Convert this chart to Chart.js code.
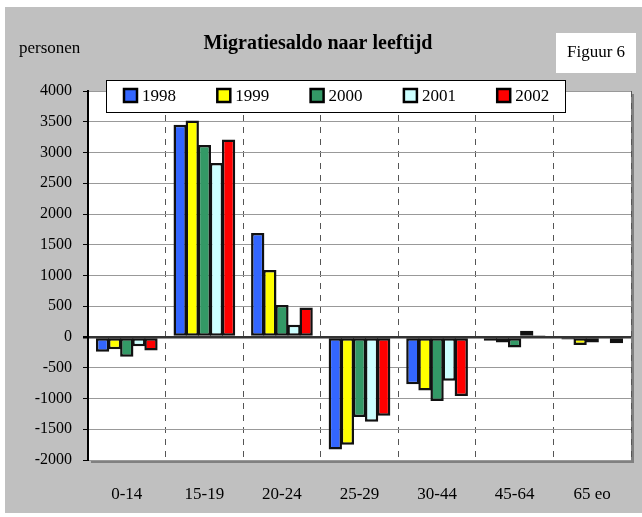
<!DOCTYPE html>
<html>
<head>
<meta charset="utf-8">
<script src="https://cdn.jsdelivr.net/npm/chart.js@4/dist/chart.umd.min.js"></script>
<style>
  html, body { margin: 0; padding: 0; background: #fff; }
  #wrap { width: 642px; height: 517px; position: relative; }
</style>
</head>
<body>
<div id="wrap"><canvas id="chart" width="642" height="517"></canvas></div>
<script>
// age groups
const categories = ["0-14", "15-19", "20-24", "25-29", "30-44", "45-64", "65 eo"];
const years = ["1998", "1999", "2000", "2001", "2002"];

// migration balance (persons) per year
const saldo1998 = [-240, 3450, 1690, -1830, -770, -60, -40];
const saldo1999 = [-200, 3520, 1090, -1750, -870, -90, -130];
const saldo2000 = [-320, 3120, 520, -1300, -1040, -170, -90];
const saldo2001 = [-150, 2830, 200, -1380, -710, 100, 20];
const saldo2002 = [-220, 3210, 480, -1280, -960, 30, -100];

const yTicks = { min: -2000, max: 4000, step: 500 };

const colors = ["#3366ff", "#ffff00", "#339966", "#ccffff", "#ff0000"];
const allData = [saldo1998, saldo1999, saldo2000, saldo2001, saldo2002];

const serif = "'Liberation Serif', 'Times New Roman', serif";

// gray panel, white plot with shadow, texts and legend
const decor = {
  id: "decor",
  beforeDraw(chart) {
    const ctx = chart.ctx;
    const a = chart.chartArea;
    ctx.save();
    ctx.fillStyle = "#c0c0c0";
    ctx.fillRect(5, 7, 637, 506);
    ctx.fillStyle = "#808080";
    ctx.fillRect(a.left + 3, a.top + 3, a.right - a.left, a.bottom - a.top);
    ctx.fillStyle = "#ffffff";
    ctx.fillRect(a.left, a.top, a.right - a.left, a.bottom - a.top);
    ctx.restore();
  },
  afterDraw(chart) {
    const ctx = chart.ctx;
    ctx.save();
    ctx.fillStyle = "#000";
    ctx.textBaseline = "middle";
    ctx.font = "bold 20px " + serif;
    ctx.textAlign = "center";
    ctx.fillText("Migratiesaldo naar leeftijd", 318, 44);
    ctx.font = "17px " + serif;
    ctx.textAlign = "left";
    ctx.fillText("personen", 19, 49);
    // Figuur box
    ctx.fillStyle = "#fff";
    ctx.fillRect(556, 33, 80, 40);
    ctx.fillStyle = "#000";
    ctx.textAlign = "center";
    ctx.fillText("Figuur 6", 596, 53);
    // legend
    ctx.fillStyle = "#fff";
    ctx.fillRect(106, 80, 459, 32);
    ctx.strokeStyle = "#000";
    ctx.lineWidth = 1;
    ctx.strokeRect(106.5, 80.5, 459, 32);
    ctx.textAlign = "left";
    chart.data.datasets.forEach((ds, i) => {
      const x = 124 + i * 93.3;
      ctx.fillStyle = ds.backgroundColor;
      ctx.fillRect(x, 89, 13, 13);
      ctx.lineWidth = 2.5;
      ctx.strokeRect(x, 89, 13, 13);
      ctx.fillStyle = "#000";
      ctx.font = "17px " + serif;
      ctx.fillText(ds.label, x + 18, 97);
    });
    ctx.restore();
  }
};

new Chart(document.getElementById("chart"), {
  type: "bar",
  data: {
    labels: categories,
    datasets: years.map((y, i) => ({
      label: y,
      data: allData[i],
      backgroundColor: colors[i],
      borderColor: "#111",
      borderWidth: 2.5,
      borderSkipped: false
    }))
  },
  options: {
    responsive: false,
    animation: false,
    devicePixelRatio: 1,
    datasets: {
      bar: { categoryPercentage: 0.78, barPercentage: 1.1 }
    },
    layout: { padding: { left: 0, right: 11, top: 91, bottom: 0 } },
    plugins: {
      legend: { display: false },
      tooltip: { enabled: false }
    },
    scales: {
      x: {
        afterFit(s) { s.height = 57; },
        grid: {
          offset: true,
          color: "#555",
          lineWidth: 1,
          drawTicks: false
        },
        border: { display: false, dash: [6, 6] },
        ticks: {
          color: "#000",
          padding: 24,
          font: { family: serif, size: 17 }
        }
      },
      y: {
        min: yTicks.min,
        max: yTicks.max,
        afterFit(s) { s.width = 88; },
        grid: {
          color: ctx => (ctx.tick && ctx.tick.value === 0 ? "#333" : "#999"),
          lineWidth: ctx => (ctx.tick && ctx.tick.value === 0 ? 2.5 : 1),
          tickColor: "#000",
          tickLength: 5
        },
        border: { display: true, color: "#000", width: 2 },
        ticks: {
          stepSize: yTicks.step,
          color: "#000",
          padding: 11,
          font: { family: serif, size: 16 },
          callback: v => String(v)
        }
      }
    }
  },
  plugins: [decor]
});
</script>
</body>
</html>
